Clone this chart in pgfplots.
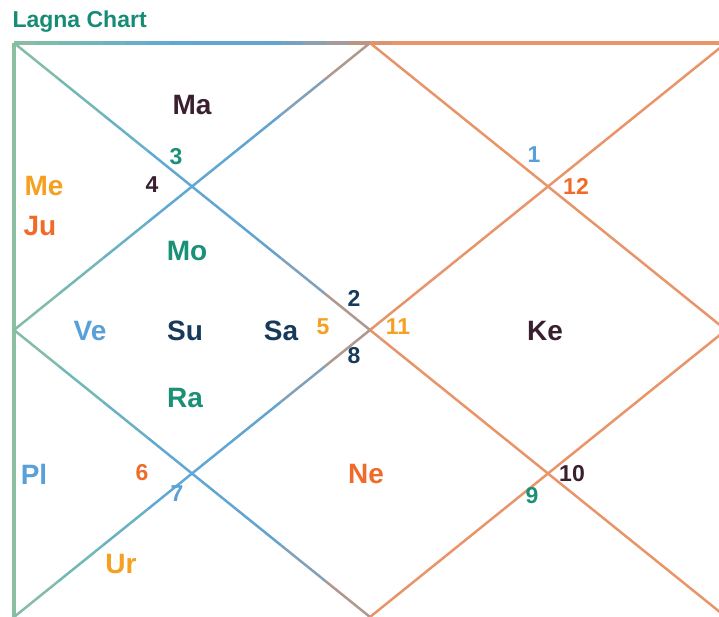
\documentclass[border=0pt]{standalone}
\usepackage{pgfplots}
\pgfplotsset{compat=1.18}
\usepackage{fontspec}
\setmainfont{Liberation Sans}
\definecolor{ctitle}{RGB}{22,140,118}
\definecolor{cmaroon}{RGB}{58,31,46}
\definecolor{cteal}{RGB}{26,144,120}
\definecolor{corange}{RGB}{245,160,32}
\definecolor{cred}{RGB}{240,106,42}
\definecolor{cblue}{RGB}{90,160,216}
\definecolor{cnavy}{RGB}{23,58,92}
\pgfplotsset{colormap={lagna}{rgb255(0pt)=(140,190,160); rgb255(70pt)=(112,184,184); rgb255(160pt)=(96,168,212); rgb255(260pt)=(100,162,208); rgb255(310pt)=(150,160,172); rgb255(350pt)=(196,146,124); rgb255(380pt)=(232,149,106); rgb255(712pt)=(232,149,106)}}
\begin{document}
\begin{tikzpicture}
\useasboundingbox (0,0) rectangle (719pt,617pt);
\begin{axis}[at={(0,0)}, anchor=south west, scale only axis, width=719pt, height=617pt,
  xmin=0, xmax=719, ymin=0, ymax=617, hide axis, clip=true,
  colormap name=lagna, point meta min=14, point meta max=726,
  every node/.style={inner sep=0pt, font=\bfseries}]
% outer edges
\addplot[mesh, point meta=x, line width=4pt] coordinates {(14,574) (14,0)};
\addplot[mesh, point meta=x, line width=4pt] coordinates {(14,574) (36.25,574) (58.5,574) (80.75,574) (103,574) (125.25,574) (147.5,574) (169.75,574) (192,574) (214.25,574) (236.5,574) (258.75,574) (281,574) (303.25,574) (325.5,574) (347.75,574) (370,574) (392.25,574) (414.5,574) (459,574) (726,574)};
% diagonals
\addplot[mesh, point meta=x, line width=2.5pt] coordinates {(14,574) (58.5,538.125) (103,502.25) (147.5,466.375) (192,430.5) (236.5,394.625) (281,358.75) (325.5,322.875) (370,287) (414.5,251.125) (459,215.25) (726,0)};
\addplot[mesh, point meta=x, line width=2.5pt] coordinates {(14,0) (58.5,35.875) (103,71.75) (147.5,107.625) (192,143.5) (236.5,179.375) (281,215.25) (325.5,251.125) (370,287) (414.5,322.875) (459,358.75) (726,574)};
% diamond
\addplot[mesh, point meta=x, line width=2.5pt] coordinates {(14,287) (58.5,322.875) (103,358.75) (147.5,394.625) (192,430.5) (236.5,466.375) (281,502.25) (325.5,538.125) (370,574) (414.5,538.125) (459,502.25) (726,287)};
\addplot[mesh, point meta=x, line width=2.5pt] coordinates {(14,287) (58.5,251.125) (103,215.25) (147.5,179.375) (192,143.5) (236.5,107.625) (281,71.75) (325.5,35.875) (370,0) (414.5,35.875) (459,71.75) (726,287)};
% title
\node[anchor=west, text=ctitle, font=\bfseries\fontsize{23}{23}\selectfont] at (axis cs:9,595) {Lagna Chart};
% planets
\node[text=cmaroon, font=\bfseries\fontsize{28}{28}\selectfont] at (axis cs:192,512) {Ma};
\node[text=corange, font=\bfseries\fontsize{28}{28}\selectfont] at (axis cs:44,431) {Me};
\node[text=cred, font=\bfseries\fontsize{28}{28}\selectfont] at (axis cs:40,391) {Ju};
\node[text=cteal, font=\bfseries\fontsize{28}{28}\selectfont] at (axis cs:187,366) {Mo};
\node[text=cblue, font=\bfseries\fontsize{28}{28}\selectfont] at (axis cs:90,286) {Ve};
\node[text=cnavy, font=\bfseries\fontsize{28}{28}\selectfont] at (axis cs:185,286) {Su};
\node[text=cnavy, font=\bfseries\fontsize{28}{28}\selectfont] at (axis cs:281,286) {Sa};
\node[text=cmaroon, font=\bfseries\fontsize{28}{28}\selectfont] at (axis cs:545,286) {Ke};
\node[text=cteal, font=\bfseries\fontsize{28}{28}\selectfont] at (axis cs:185,219) {Ra};
\node[text=cblue, font=\bfseries\fontsize{28}{28}\selectfont] at (axis cs:34,143) {Pl};
\node[text=cred, font=\bfseries\fontsize{28}{28}\selectfont] at (axis cs:366,143) {Ne};
\node[text=corange, font=\bfseries\fontsize{28}{28}\selectfont] at (axis cs:121,53) {Ur};
% house numbers
\node[text=cteal, font=\bfseries\fontsize{23}{23}\selectfont] at (axis cs:176,460) {3};
\node[text=cmaroon, font=\bfseries\fontsize{23}{23}\selectfont] at (axis cs:152,432) {4};
\node[text=corange, font=\bfseries\fontsize{23}{23}\selectfont] at (axis cs:323,290) {5};
\node[text=cnavy, font=\bfseries\fontsize{23}{23}\selectfont] at (axis cs:354,319) {2};
\node[text=cnavy, font=\bfseries\fontsize{23}{23}\selectfont] at (axis cs:354,261) {8};
\node[text=corange, font=\bfseries\fontsize{23}{23}\selectfont] at (axis cs:398,290) {11};
\node[text=cblue, font=\bfseries\fontsize{23}{23}\selectfont] at (axis cs:534,462) {1};
\node[text=cred, font=\bfseries\fontsize{23}{23}\selectfont] at (axis cs:576,431) {12};
\node[text=cred, font=\bfseries\fontsize{23}{23}\selectfont] at (axis cs:142,144) {6};
\node[text=cblue, font=\bfseries\fontsize{23}{23}\selectfont] at (axis cs:177,123) {7};
\node[text=cteal, font=\bfseries\fontsize{23}{23}\selectfont] at (axis cs:532,121) {9};
\node[text=cmaroon, font=\bfseries\fontsize{23}{23}\selectfont] at (axis cs:572,143) {10};
\end{axis}
\end{tikzpicture}
\end{document}
